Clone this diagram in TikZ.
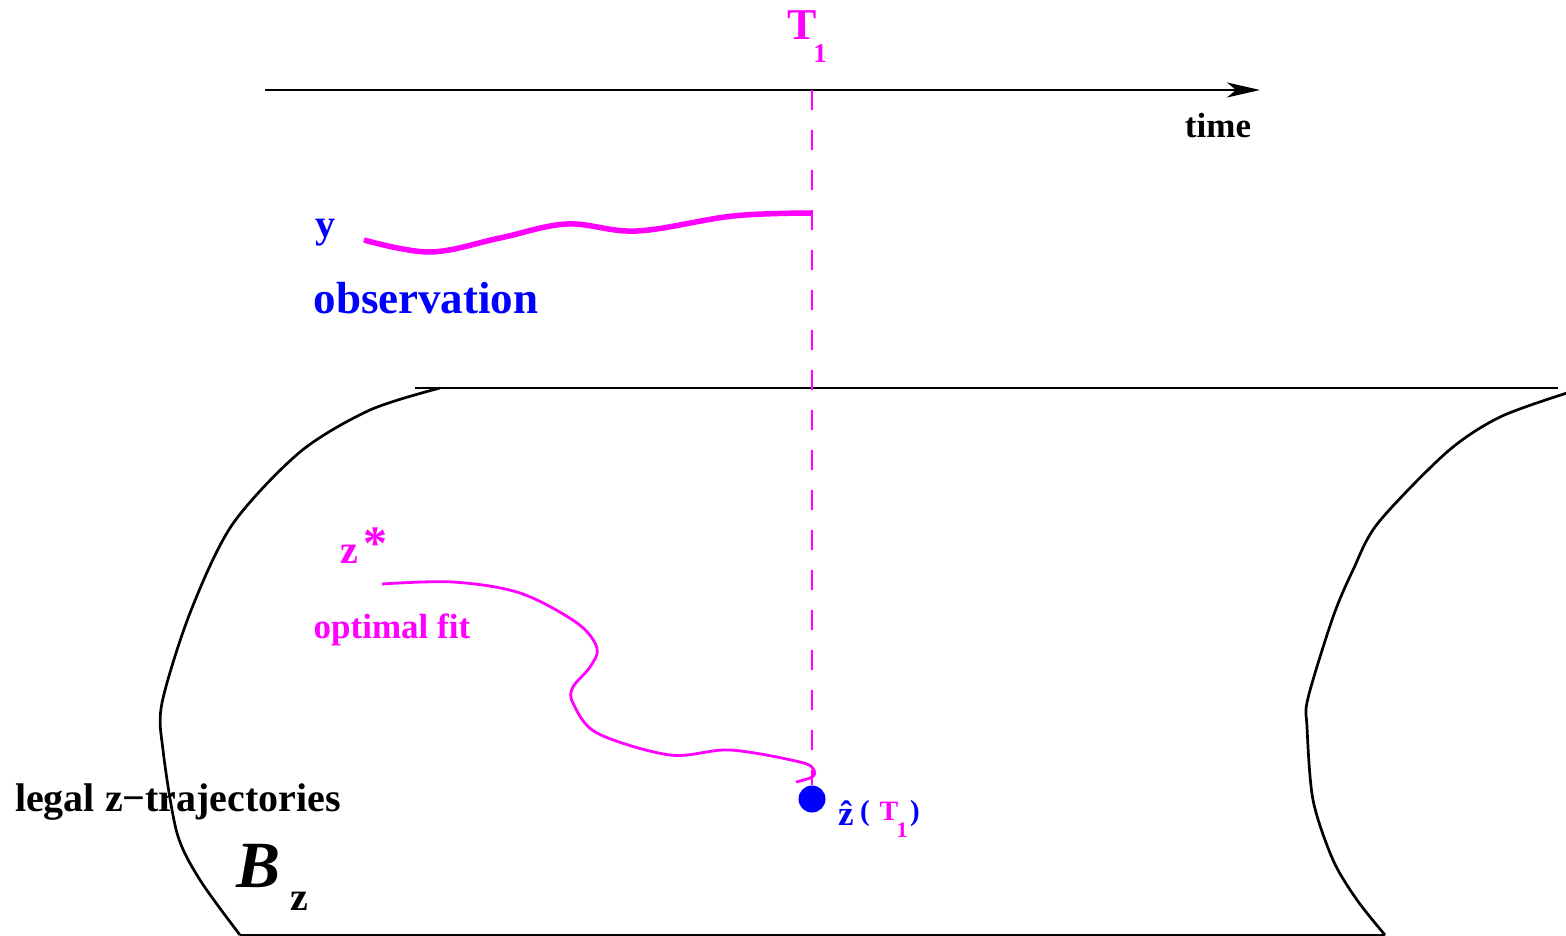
\documentclass[tikz,border=0pt]{standalone}
\usepackage{fontspec}
\setmainfont{Liberation Serif}
\usetikzlibrary{arrows.meta}
\definecolor{mag}{RGB}{255,0,255}
\definecolor{blu}{RGB}{0,0,255}
\newcommand{\fsz}[1]{\fontsize{#1}{#1}\selectfont}
\tikzset{
  lbl/.style={inner sep=0pt, outer sep=0pt},
  boundary/.style={line width=2.7pt, black},
  tdash/.style={mag, line width=2.6pt, dash pattern=on 20pt off 20pt},
  obscurve/.style={mag, line width=5.5pt},
  fitcurve/.style={mag, line width=2.8pt},
}
\begin{document}
\begin{tikzpicture}[x=1pt,y=-1pt]
\useasboundingbox (0,0) rectangle (1566,936);
% time axis
\coordinate (ax0) at (265,90);
\coordinate (ax1) at (1260,90);
\draw[line width=2.6pt, -{Stealth[length=33pt,width=15pt,inset=9pt]}] (ax0) -- (ax1);
\node[lbl, anchor=base, font=\bfseries\fsz{35}] (time) at (1218,138) {time};
% T1
\node[lbl, anchor=base, text=mag, font=\bfseries\fsz{44}] (T) at (802,40) {T};
\node[lbl, anchor=base, text=mag, font=\bfseries\fsz{27}] (Tsub) at (820,63) {1};
% observation
\node[lbl, anchor=base, text=blu, font=\bfseries\fsz{40}] (y) at (325,237) {y};
\node[lbl, anchor=base, text=blu, font=\bfseries\fsz{45}] (obs) at (426,313) {observation};
\draw[obscurve] plot[smooth, tension=0.6] coordinates {(364,240) (430,252) (500,238) (567,224) (637,231) (733,216) (812,213)};
% tube boundary
\coordinate (tl) at (415,388);
\coordinate (tr) at (1558,388);
\draw[boundary] (tl) -- (tr);
\coordinate (bl) at (240,935);
\coordinate (br) at (1385,935);
\draw[boundary] (bl) -- (br);
\draw[boundary] plot[smooth, tension=0.5] coordinates {(440,388) (370,410) (300,452) (232,525) (190,613) (162,703) (163,750) (177,833) (200,880) (240,935)};
\draw[boundary] plot[smooth, tension=0.5] coordinates {(1567,393) (1500,417) (1447,452) (1378,523) (1353,570) (1333,617) (1308,698) (1307,727) (1313,800) (1333,860) (1357,900) (1385,935)};
% optimal fit
\node[lbl, anchor=base, text=mag, font=\bfseries\fsz{40}] (zs) at (349,563) {z};
\node[lbl, text=mag, font=\bfseries\fsz{48}] (star) at (375,544) {*};
\node[lbl, anchor=base, text=mag, font=\bfseries\fsz{35}] (fit) at (392,638) {optimal fit};
\draw[fitcurve] plot[smooth, tension=0.55] coordinates {(382,584) (453,582) (520,593) (577,623) (597,648) (590,667) (573,687) (573,703) (597,733) (670,755) (730,750) (800,762) (814,770) (812,777) (796,782)};
% estimated point
\node[circle, fill=blu, minimum size=27pt, inner sep=0pt] (dot) at (812,799) {};
\draw[tdash] (ax0 -| dot) -- (dot.north);
\node[lbl, anchor=base, text=blu, font=\bfseries\fsz{35}] (zh) at (846,825) {\^{z}};
\node[lbl, anchor=base, text=blu, font=\bfseries\fsz{29}] (lp) at (865,820) {(};
\node[lbl, anchor=base, text=mag, font=\bfseries\fsz{28}] (T2) at (889,820) {T};
\node[lbl, anchor=base, text=mag, font=\bfseries\fsz{22}] (T2sub) at (902,837) {1};
\node[lbl, anchor=base, text=blu, font=\bfseries\fsz{29}] (rp) at (915,820) {)};
% legal trajectories
\node[lbl, anchor=base, font=\bfseries\fsz{40}] (legal) at (178,811) {legal z−trajectories};
\node[lbl, anchor=base west, font=\bfseries\itshape\fsz{66}] (B) at (236,887) {B};
\node[lbl, anchor=base, font=\bfseries\fsz{40}] (Bz) at (299,910) {z};
\end{tikzpicture}
\end{document}
